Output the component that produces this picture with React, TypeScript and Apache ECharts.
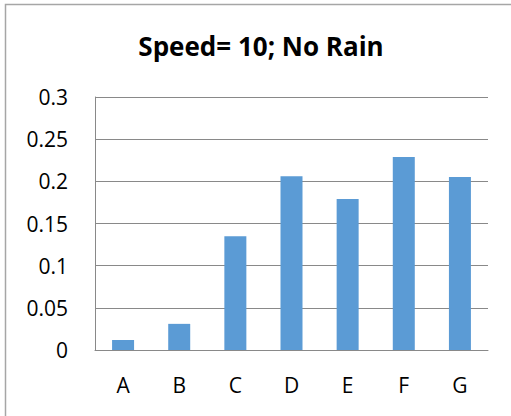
import React, { useEffect, useRef } from "react";
import * as echarts from "echarts";

const categories = ["A", "B", "C", "D", "E", "F", "G"];
const values = [0.012, 0.031, 0.135, 0.206, 0.179, 0.229, 0.205];
const yTicks = { min: 0, max: 0.3, interval: 0.05 };
const titleText = "Speed= 10; No Rain";

export default function App() {
  const ref = useRef<HTMLDivElement>(null);
  useEffect(() => {
    if (!ref.current) return;
    const chart = echarts.init(ref.current, null, { renderer: "svg" });
    const font = "'Open Sans', 'Noto Sans', sans-serif";
    chart.setOption({
      animation: false,
      backgroundColor: "#ffffff",
      graphic: [
        {
          type: "rect",
          shape: { x: 5.5, y: 4.5, width: 600, height: 500 },
          style: { fill: "none", stroke: "#a6a6a6", lineWidth: 1.5 },
          silent: true,
        },
        {
          type: "text",
          x: 261,
          y: 46,
          style: {
            text: titleText,
            font: `bold 26px ${font}`,
            fill: "#000000",
            textAlign: "center",
            textVerticalAlign: "middle",
          },
        },
      ],
      grid: { left: 95, top: 97, right: 23, bottom: 66, containLabel: false },
      xAxis: {
        type: "category",
        data: categories,
        axisLine: { lineStyle: { color: "#898989", width: 1 } },
        axisTick: { show: false },
        axisLabel: { color: "#000", fontSize: 21, fontFamily: font, margin: 24 },
      },
      yAxis: {
        type: "value",
        min: yTicks.min,
        max: yTicks.max,
        interval: yTicks.interval,
        axisLine: { show: true, lineStyle: { color: "#898989", width: 1 } },
        axisTick: { show: false },
        splitLine: { lineStyle: { color: "#898989", width: 1 } },
        axisLabel: {
          color: "#000",
          fontSize: 21,
          fontFamily: font,
          margin: 27,
          formatter: (v: number) => String(parseFloat(v.toFixed(2))),
        },
      },
      series: [
        {
          type: "bar",
          data: values,
          barWidth: 22,
          itemStyle: { color: "#5b9bd5" },
        },
      ],
    });
    return () => chart.dispose();
  }, []);
  return (
    <div
      ref={ref}
      style={{ position: "absolute", left: 0, top: 0, width: 511, height: 416 }}
    />
  );
}
